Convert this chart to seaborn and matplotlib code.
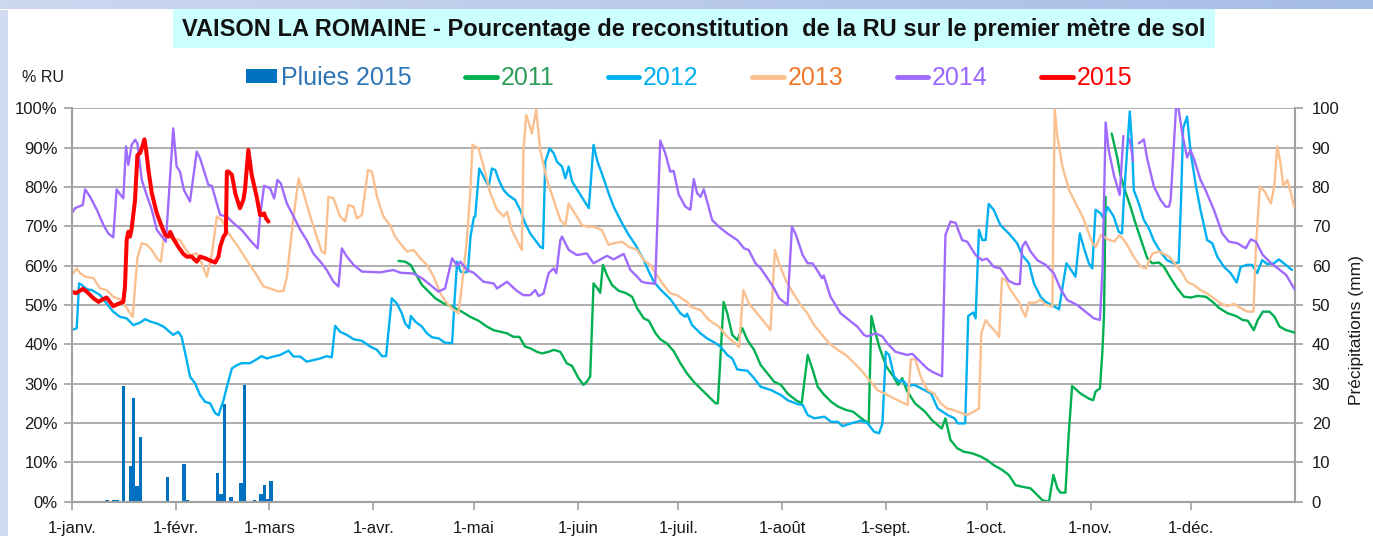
import numpy as np
import pandas as pd
import matplotlib
matplotlib.use('Agg')
import matplotlib.pyplot as plt
from matplotlib.ticker import PercentFormatter
from matplotlib.lines import Line2D
from matplotlib.patches import Patch, Rectangle
from matplotlib.colors import LinearSegmentedColormap
import seaborn as sns

# jours depuis le 1er janvier (None = trou dans la serie)
jours_2011 = [97.5, 99.5, 101.1, 102.5, 104.5, 106.5, 108.5, 111.0, 114.0, 116.4, 118.9, 121.4, 123.9, 125.9,
              127.9, 129.9, 131.8, 133.6, 135.3, 136.8, 138.8, 140.3, 142.3, 143.8, 145.8, 147.7, 149.3, 151.2,
              152.7, 153.7, 154.7, 155.7, 156.9, 157.7, 158.5, 159.7, 161.2, 163.2, 165.2, 167.2, 168.7, 170.7,
              172.2, 174.2, 175.6, 177.6, 179.6, 181.6, 183.6, 185.6, 187.6, 190.1, 192.1, 192.8, 194.5, 195.6,
              197.1, 198.6, 200.1, 201.6, 203.6, 205.6, 207.6, 209.6, 211.6, 213.6, 216.1, 217.8, 219.6, 221.1,
              222.6, 224.6, 226.6, 228.6, 231.1, 233.1, 235.6, 237.8, 238.6, 239.6, 241.1, 243.1, 245.1, 246.6,
              247.8, 249.1, 251.6, 254.6, 256.6, 259.6, 260.7, 262.2, 264.2, 266.2, 268.7, 271.2, 273.1, 275.1,
              277.6, 279.6, 281.6, 283.6, 286.1, 288.1, 289.6, 291.6, 292.9, 294.1, 295.0, 296.5, 297.5, 298.5,
              301.0, 303.5, 304.8, 305.5, 306.8, 307.5, 308.0, 308.5, None,
              310.3, 311.9, 312.9, 314.4, 315.9, 317.4, 319.4, 320.9, 322.4, 324.4, 325.9, 327.9, 329.9, 331.9,
              333.9, 335.9, 338.4, 340.4, 342.4, 344.9, 347.4, 349.4, 350.9, 352.7, 353.9, 355.4, 357.4, 358.9,
              360.4, 362.4, 364.9]
ru_2011 = [61.2, 61.0, 60.2, 58.1, 55.1, 53.4, 51.7, 50.4, 49.4, 48.3, 47.0, 46.0, 44.5, 43.6,
           43.2, 42.8, 41.9, 41.9, 39.4, 39.0, 38.1, 37.7, 38.1, 38.6, 38.1, 35.2, 34.5, 31.4,
           29.7, 30.5, 31.8, 55.5, 54.2, 53.1, 60.2, 57.6, 55.1, 53.6, 53.1, 52.1, 49.2, 46.6,
           46.0, 42.8, 41.3, 40.2, 38.3, 35.2, 32.6, 30.5, 28.8, 26.7, 25.0, 25.0, 50.8, 47.9,
           42.4, 41.1, 44.1, 41.1, 38.6, 34.7, 32.6, 30.5, 29.7, 27.5, 25.8, 25.0, 37.3, 33.5,
           29.2, 27.1, 25.4, 24.2, 23.3, 22.9, 21.2, 19.9, 47.2, 43.6, 39.0, 34.3, 31.9, 29.7,
           31.4, 28.4, 25.0, 22.9, 20.8, 18.6, 21.2, 15.7, 13.6, 12.7, 12.3, 11.5, 10.6, 9.3,
           8.1, 6.8, 4.2, 3.8, 3.4, 1.7, 0.4, 0.0, 6.8, 3.4, 2.3, 2.3, 17.4, 29.4,
           27.5, 26.2, 25.8, 28.0, 28.8, 37.7, 47.0, 77.5, None,
           93.6, 87.7, 83.1, 78.8, 75.0, 70.8, 65.7, 61.9, 60.6, 60.8, 59.7, 56.8, 54.2, 52.1,
           51.9, 52.3, 52.1, 50.8, 49.2, 47.9, 47.2, 46.2, 46.0, 43.6, 46.2, 48.3, 48.3, 47.0,
           44.5, 43.6, 43.0]

jours_2012 = [0.0, 1.5, 2.2, 3.0, 4.5, 6.0, 8.5, 10.4, 12.4, 14.4, 16.4, 18.4, 20.4, 21.9, 23.4, 25.4, 27.4,
              30.3, 31.8, 32.8, 34.3, 35.3, 36.8, 38.3, 39.8, 41.3, 42.8, 43.8, 45.3, 46.3, 47.8, 49.3, 50.7,
              53.2, 55.2, 56.7, 58.2, 60.2, 62.2, 64.7, 66.2, 68.2, 70.1, 74.1, 76.1, 77.6, 78.6, 80.1, 82.1,
              84.1, 86.6, 89.1, 91.1, 92.6, 93.8, 95.5, 97.0, 98.5, 99.5, 100.7, 101.2, 102.5, 104.5, 106.0,
              107.5, 109.5, 111.4, 113.5, 114.3, 115.0, 116.0, 117.0, 118.2, 119.0, 120.0, 120.4, 121.6, 122.9,
              124.4, 125.4, 126.4, 127.4, 128.9, 130.3, 132.3, 133.8, 135.3, 136.8, 138.3, 139.8, 140.6, 141.3,
              142.6, 143.8, 144.8, 146.3, 147.3, 148.3, 149.3, 151.8, 154.3, 155.7, 156.9, 158.7, 160.2, 161.7,
              164.2, 166.2, 168.2, 170.7, 172.2, 173.7, 175.6, 178.6, 181.6, 183.1, 183.6, 185.1, 187.6, 189.6,
              192.1, 193.6, 195.6, 197.1, 198.6, 201.6, 203.6, 205.6, 208.6, 211.6, 213.6, 216.6, 218.1, 219.6,
              221.6, 224.6, 226.6, 228.6, 230.0, 232.5, 235.5, 237.5, 239.4, 240.9, 241.9, 242.9, 243.9, 245.4,
              246.9, 247.9, 249.4, 251.4, 254.4, 256.4, 258.4, 261.4, 263.4, 264.4, 266.6, 267.5, 269.0, 269.7,
              270.7, 271.7, 272.7, 273.6, 275.1, 277.1, 279.6, 282.1, 283.6, 285.6, 287.1, 289.1, 290.6, 292.6,
              294.6, 295.5, 296.8, 298.5, 299.5, 300.8, 302.2, 303.5, 304.5, 305.5, 307.0, 307.9, 309.1, 310.9,
              312.4, 313.4, 313.9, 314.9, 315.7, 316.4, 316.9, 318.4, 319.9, 321.4, 322.8, 324.8, 326.8, 328.8,
              330.3, 331.0, 331.6, 332.8, 333.8, 335.3, 336.8, 338.8, 340.3, 341.8, 343.8, 345.8, 347.6, 348.8,
              350.7, 352.2, 353.7, 355.2, 356.7, 358.7, 360.2, 362.2, 364.1]
ru_2012 = [43.6, 44.1, 55.5, 55.1, 54.0, 53.8, 52.5, 50.4, 48.3, 47.0, 46.6, 44.9, 45.5, 46.4, 45.8, 45.3, 44.5,
           42.4, 43.2, 41.9, 36.0, 31.8, 30.1, 27.1, 25.4, 25.0, 22.5, 22.0, 25.8, 29.2, 33.9, 34.7, 35.2,
           35.2, 36.2, 37.0, 36.4, 36.9, 37.3, 38.4, 36.9, 36.9, 35.6, 36.4, 37.0, 36.7, 44.7, 43.2, 42.4,
           41.3, 40.9, 39.4, 38.6, 37.0, 37.0, 51.7, 50.4, 47.9, 45.3, 44.1, 47.2, 45.8, 44.5, 42.8,
           41.8, 41.5, 40.4, 40.3, 52.1, 61.0, 58.5, 58.2, 58.5, 67.4, 72.3, 72.5, 84.7, 82.6,
           80.1, 84.7, 84.3, 81.8, 79.2, 77.9, 76.7, 74.2, 70.8, 68.2, 66.5, 64.8, 64.4, 86.4,
           89.8, 88.6, 86.4, 85.2, 82.2, 85.2, 81.4, 78.0, 74.6, 90.7, 86.4, 82.2, 78.4, 75.0,
           70.8, 67.8, 65.3, 61.4, 58.5, 55.9, 54.0, 51.5, 47.9, 47.0, 47.8, 44.9, 42.8, 41.5,
           40.3, 39.4, 37.3, 36.4, 33.6, 33.3, 31.4, 29.2, 28.4, 27.1, 25.8, 24.8, 24.6, 22.0,
           21.2, 21.6, 20.3, 20.3, 19.2, 19.9, 20.6, 19.9, 17.8, 17.4, 19.9, 38.1, 37.3, 31.8,
           30.5, 30.9, 29.4, 29.7, 28.4, 27.5, 23.7, 22.0, 21.2, 19.9, 19.9, 47.2, 48.1, 46.6,
           69.1, 66.5, 66.5, 75.7, 74.2, 70.3, 68.2, 65.7, 62.7, 60.6, 55.5, 52.1, 50.8, 49.9,
           48.9, 53.8, 60.6, 58.5, 57.2, 68.2, 64.0, 60.6, 59.3, 74.2, 73.3, 72.0, 74.9, 72.5,
           68.6, 68.2, 76.7, 89.4, 99.2, 90.3, 79.2, 75.8, 71.6, 69.5, 66.5, 63.6, 61.4, 60.6,
           60.8, 76.7, 94.9, 97.9, 89.4, 80.9, 74.2, 66.5, 65.7, 62.3, 59.7, 58.1, 55.7, 59.7,
           60.2, 60.2, 58.1, 61.4, 60.4, 60.6, 61.6, 60.2, 58.9]

jours_2013 = [0.0, 1.5, 2.5, 4.0, 6.5, 8.5, 10.4, 12.4, 14.9, 16.4, 18.2, 18.9, 19.6, 20.9, 22.4, 23.9, 25.4,
              26.6, 27.4, 28.4, 30.3, 32.3, 33.8, 35.3, 37.3, 38.8, 40.3, 41.8, 43.3, 44.8, 46.8, 49.3, 52.2,
              55.2, 57.2, 59.2, 61.7, 63.2, 64.2, 66.2, 67.7, 69.2, 71.1, 73.1, 74.6, 75.6, 76.6, 78.1, 80.1,
              81.6, 82.6, 84.1, 85.1, 86.6, 88.4, 89.6, 91.1, 93.0, 95.0, 96.5, 98.0, 100.0, 102.0, 104.0,
              106.0, 108.0, 110.0, 112.0, 114.0, 115.4, 116.4, 117.9, 118.9, 119.6, 121.4, 122.9, 124.9, 126.9,
              128.9, 129.9, 131.3, 132.8, 134.3, 134.8, 135.6, 136.3, 137.3, 138.6, 139.8, 141.8, 143.8, 145.8,
              147.3, 148.3, 149.8, 152.3, 153.7, 155.7, 158.2, 160.2, 161.7, 164.2, 166.2, 168.7, 170.7, 172.6,
              174.6, 176.6, 178.6, 180.6, 183.6, 184.6, 187.6, 190.1, 193.1, 195.6, 198.1, 199.1, 200.4, 202.0,
              204.5, 206.5, 208.5, 209.8, 211.0, 213.0, 215.0, 217.5, 219.5, 221.5, 223.5, 226.0, 228.5, 231.0,
              233.5, 235.5, 237.5, 240.4, 243.4, 246.4, 249.4, 250.4, 251.7, 253.3, 255.3, 257.3, 259.3, 261.2,
              263.2, 265.2, 267.2, 269.2, 270.7, 271.4, 272.7, 274.2, 275.7, 276.7, 277.6, 278.6, 280.1, 282.6,
              283.6, 284.6, 285.6, 287.6, 289.1, 290.6, 292.6, 293.3, 294.1, 295.6, 297.6, 299.6, 301.6, 303.1,
              304.6, 305.6, 307.1, 309.1, 311.1, 312.6, 314.0, 315.5, 317.1, 319.1, 320.5, 321.5, 322.5, 324.5,
              327.4, 329.3, 331.4, 332.8, 334.8, 336.8, 338.8, 340.8, 342.8, 344.8, 346.8, 348.8, 350.8, 352.6,
              353.3, 354.5, 356.0, 357.8, 358.8, 359.7, 360.7, 361.5, 362.7, 363.7, 364.7]
ru_2013 = [57.6, 59.3, 58.1, 57.2, 56.8, 54.2, 53.8, 52.1, 51.3, 49.2, 47.0, 54.7, 61.9, 65.7, 65.3, 64.0, 61.9,
           61.0, 66.5, 67.4, 66.9, 66.5, 64.4, 62.7, 63.1, 60.6, 57.2, 62.7, 72.5, 71.6, 68.2, 65.3, 61.4,
           57.6, 54.7, 54.2, 53.4, 53.6, 57.2, 72.5, 82.2, 78.4, 72.7, 67.4, 63.6, 63.1, 77.5, 77.1, 72.5,
           71.2, 75.4, 75.0, 72.0, 72.9, 84.3, 83.9, 77.5, 72.5, 70.3, 67.4, 65.7, 63.6, 64.0, 61.9,
           60.2, 57.2, 53.0, 50.4, 48.7, 47.9, 54.7, 66.5, 78.4, 90.7, 89.8, 85.2, 78.4, 74.2,
           72.5, 73.7, 69.1, 66.5, 64.0, 89.4, 98.3, 96.6, 93.6, 99.6, 89.4, 81.8, 76.7, 71.6,
           70.3, 75.8, 73.7, 70.3, 69.9, 69.9, 69.1, 65.3, 65.7, 66.1, 64.8, 64.0, 61.4, 60.2,
           57.6, 55.1, 53.0, 52.5, 50.8, 49.6, 48.7, 46.2, 44.5, 41.9, 40.2, 39.3, 53.8, 50.4,
           47.9, 45.8, 43.6, 64.0, 60.6, 56.4, 53.4, 50.0, 47.9, 44.9, 42.8, 40.3, 38.6, 37.3,
           35.2, 33.5, 31.4, 28.4, 27.1, 25.8, 24.6, 36.2, 36.2, 31.8, 28.4, 27.5, 25.0, 23.7,
           23.3, 22.6, 22.0, 22.9, 23.7, 42.8, 46.2, 44.5, 43.2, 41.8, 56.8, 56.4, 53.8, 50.8,
           48.7, 47.0, 50.6, 50.6, 51.4, 50.0, 49.6, 99.6, 92.8, 85.2, 79.2, 75.8, 72.5, 69.1,
           65.7, 64.8, 67.8, 66.7, 66.1, 67.8, 66.5, 64.4, 61.9, 59.7, 59.3, 61.4, 63.1, 63.6,
           62.3, 60.4, 58.1, 55.9, 55.1, 53.8, 52.9, 51.7, 50.4, 49.7, 50.3, 49.2, 48.3, 48.3,
           64.0, 80.1, 78.8, 75.8, 80.1, 90.3, 86.0, 80.1, 81.8, 78.8, 75.0]

jours_2014 = [0.0, 1.0, 2.0, 3.3, 4.0, 5.5, 7.5, 9.5, 10.9, 12.4, 13.4, 14.2, 15.4, 16.2, 16.9, 17.9, 18.9, 19.6,
              20.9, 22.2, 23.9, 25.4, 26.9, 28.1, 30.3, 31.3, 32.3, 33.5, 35.3, 37.3, 38.3, 40.8, 41.8, 44.3,
              46.3, 48.3, 50.7, 53.2, 55.5, 56.2, 57.4, 59.2, 60.4, 61.4, 62.4, 64.2, 66.2, 68.2, 70.1, 72.1,
              74.6, 76.1, 78.1, 79.6, 80.6, 82.1, 84.1, 86.6, 92.0, 96.0, 98.0, 102.0, 104.5, 107.0, 109.4,
              111.4, 113.5, 115.0, 116.0, 117.9, 119.9, 122.9, 125.9, 126.9, 129.9, 132.8, 134.8, 136.8, 138.3,
              139.3, 140.8, 142.3, 143.8, 144.6, 145.8, 146.3, 148.3, 150.7, 153.7, 155.7, 159.7, 161.7, 164.7,
              166.7, 168.7, 170.1, 171.6, 174.1, 175.6, 177.1, 178.6, 179.6, 181.1, 183.1, 184.6, 185.6, 186.6,
              187.6, 188.6, 191.1, 193.1, 195.6, 198.6, 200.6, 202.0, 204.0, 205.6, 207.6, 209.6, 211.1, 213.6,
              214.9, 216.1, 218.1, 219.6, 221.0, 222.4, 223.9, 224.4, 226.4, 229.4, 231.9, 234.4, 236.4, 237.4,
              239.9, 241.9, 243.3, 245.8, 249.3, 250.8, 253.2, 255.2, 256.8, 259.7, 260.7, 262.2, 263.7, 265.7,
              267.2, 269.7, 271.6, 273.1, 275.1, 277.1, 279.6, 281.6, 282.9, 283.6, 284.6, 286.1, 288.1, 290.6,
              293.0, 295.0, 297.0, 300.0, 302.5, 305.0, 306.8, 307.6, 308.5, 309.4, 311.0, 312.7, 313.8, None,
              315.7, 316.7, None,
              318.4, 319.9, 320.9, 322.9, 324.9, 326.4, 327.4, 327.9, 329.7, 331.4, 332.8, 333.8, 334.8, 336.8,
              338.3, 340.8, 343.3, 345.3, 347.8, 350.3, 351.8, 353.3, 355.4, 357.9, 359.9, 362.4, 365.0]
ru_2014 = [73.3, 74.6, 75.0, 75.4, 79.4, 77.5, 74.2, 70.3, 68.2, 67.2, 79.4, 78.4, 77.1, 90.3, 85.6, 90.7, 92.0, 91.1,
           81.8, 78.4, 74.2, 69.1, 67.4, 66.1, 94.9, 85.2, 83.9, 79.2, 76.3, 89.0, 87.3, 80.5, 80.3, 72.9,
           72.5, 70.8, 69.1, 66.5, 64.4, 72.5, 80.3, 79.7, 77.1, 81.8, 80.9, 75.8, 72.5, 69.1, 66.5, 63.1,
           60.6, 58.9, 55.9, 54.7, 64.4, 62.3, 60.2, 58.5, 58.3, 58.9, 58.2, 58.0, 56.8, 55.1, 53.4,
           54.2, 61.9, 60.0, 61.0, 58.9, 58.2, 55.9, 55.5, 54.2, 55.9, 53.6, 52.5, 52.5, 53.8,
           52.3, 52.9, 58.1, 59.3, 58.1, 66.5, 67.4, 64.0, 62.7, 63.1, 60.6, 62.5, 61.6, 63.0,
           58.9, 57.2, 55.9, 55.6, 55.4, 91.8, 88.6, 83.9, 84.1, 78.1, 75.0, 74.2, 82.0, 78.4,
           77.5, 79.4, 71.6, 69.9, 68.2, 66.5, 64.4, 64.0, 60.6, 59.3, 56.8, 54.2, 51.7, 50.0,
           69.9, 67.8, 62.7, 60.6, 60.6, 58.9, 56.8, 57.5, 52.1, 47.9, 46.2, 44.5, 42.4, 42.0,
           42.8, 42.0, 40.3, 38.1, 37.3, 37.6, 35.6, 33.9, 33.0, 31.9, 67.8, 71.2, 70.9, 66.5,
           66.1, 62.7, 61.4, 61.8, 59.7, 59.3, 56.1, 55.3, 55.3, 64.8, 66.1, 63.6, 61.4, 60.2,
           58.1, 54.2, 51.3, 50.0, 48.3, 46.6, 46.2, 59.7, 96.4, 89.4, 82.9, 78.0, 93.0, None,
           92.1, 86.6, None,
           91.1, 92.1, 87.2, 80.1, 76.7, 75.0, 75.0, 76.7, 103.0, 93.4, 87.5, 89.4, 87.3, 81.8,
           79.2, 74.2, 68.2, 66.1, 65.7, 64.4, 66.7, 66.1, 62.7, 60.6, 59.3, 57.6, 53.8]

jours_2015 = [0.0, 1.3, 3.3, 4.5, 6.5, 8.0, 9.0, 10.4, 11.4, 12.4, 13.9, 15.4, 15.9, 16.4, 16.9, 17.4, 17.9,
              18.9, 19.6, 20.4, 21.1, 21.7, 22.2, 22.9, 23.9, 25.4, 26.9, 27.9, 28.9, 29.4, 30.3, 31.8, 33.3,
              34.3, 35.8, 37.3, 38.3, 39.8, 41.3, 42.8, 43.8, 44.3, 45.3, 46.0, 46.3, 46.8, 47.8, 48.8, 50.2,
              51.2, 51.7, 52.7, 53.7, 55.2, 56.2, 56.9, 57.4, 58.0, 58.7]
ru_2015 = [53.4, 53.0, 54.1, 53.4, 51.7, 50.8, 51.3, 51.9, 50.8, 49.7, 50.3, 50.8, 54.7, 66.5, 68.6, 67.4, 69.5,
           76.7, 88.1, 88.6, 90.3, 92.1, 89.4, 84.3, 78.4, 73.3, 69.9, 67.8, 67.4, 68.6, 66.9, 64.8, 63.0,
           62.3, 62.3, 61.0, 62.3, 61.9, 61.3, 60.8, 62.3, 64.8, 67.4, 68.2, 83.9, 83.9, 83.1, 78.4, 74.6,
           76.7, 79.2, 89.4, 83.1, 77.5, 72.9, 72.9, 73.3, 72.0, 71.2]

# pluies 2015 (mm)
jours_pluie = [10, 12, 13, 15, 17, 18, 19, 20, 28, 33, 34, 43, 44, 45, 47, 50, 51, 54, 56, 57, 58, 59]
pluies_2015 = [0.4, 0.4, 0.4, 29.4, 9.0, 26.4, 4.0, 16.4, 6.2, 9.7, 0.4, 7.2, 1.9, 24.8, 1.3, 4.8, 29.7,
               0.4, 1.9, 4.2, 0.8, 5.3]

mois = ['1-janv.', '1-févr.', '1-mars', '1-avr.', '1-mai', '1-juin', '1-juil.', '1-août',
        '1-sept.', '1-oct.', '1-nov.', '1-déc.']

couleurs = {'2011': '#00B050', '2012': '#00B0F0', '2013': '#FAC090', '2014': '#9F6BFF', '2015': '#FF0000'}
couleurs_texte = {'Pluies 2015': '#2E75B6', '2011': '#2E9D5A', '2012': '#00B0F0', '2013': '#F0782A',
                  '2014': '#9966FF', '2015': '#FF0000'}
bleu_pluie = '#0070C0'
gris = '#A0A0A0'

DEBUT = pd.Timestamp('2015-01-01')


def to_frame(annee, jours, valeurs):
    df = pd.DataFrame({'jour': jours, 'ru': valeurs}, dtype=float)
    df['seg'] = df['ru'].isna().cumsum()
    df = df.dropna().copy()
    df['date'] = DEBUT + pd.to_timedelta(df['jour'], unit='D')
    df['annee'] = annee
    df['trace'] = annee + '_' + df['seg'].astype(str)
    return df


sns.set_style('white')
plt.rcParams['font.family'] = ['Liberation Sans', 'DejaVu Sans']

W, H = 1373, 536
L, R, T, B = 71.7, 1295, 108.3, 501.7

fig = plt.figure(figsize=(W / 100, H / 100), dpi=100)
fig.patch.set_facecolor('white')

# bandeau du fond (style diapo)
bande = fig.add_axes([0, 1 - 9.5 / H, 1, 9.5 / H])
cmap_bande = LinearSegmentedColormap.from_list('bande', ['#CDD8F0', '#A6BDE6'])
bande.imshow(np.linspace(0, 1, 256).reshape(1, -1), aspect='auto', cmap=cmap_bande)
bande.axis('off')
fig.add_artist(Rectangle((0, 0), 8 / W, 1 - 9.5 / H, transform=fig.transFigure,
                         facecolor='#D2DCF1', edgecolor='none'))

ax = fig.add_axes([L / W, 1 - B / H, (R - L) / W, (B - T) / H])
ax2 = ax.twinx()
ax.set_zorder(2)
ax2.set_zorder(1)
ax.patch.set_visible(False)
ax2.patch.set_facecolor('white')

# pluies sur l'axe de droite
dates_pluie = DEBUT + pd.to_timedelta(jours_pluie, unit='D') + pd.Timedelta(hours=12)
ax2.bar(dates_pluie, pluies_2015, width=1.0, color=bleu_pluie, linewidth=0, zorder=2)
ax2.set_ylim(0, 100)
ax2.set_yticks(range(0, 101, 10))
ax2.set_axisbelow(True)
ax2.yaxis.grid(True, color=gris, linewidth=1.2)

# courbes RU
df_old = pd.concat([to_frame(a, j, v) for a, j, v in
                    [('2011', jours_2011, ru_2011), ('2012', jours_2012, ru_2012),
                     ('2013', jours_2013, ru_2013), ('2014', jours_2014, ru_2014)]])
sns.lineplot(data=df_old, x='date', y='ru', hue='annee', units='trace', estimator=None, sort=False,
             palette=couleurs, linewidth=1.7, legend=False, ax=ax)
df_2015 = to_frame('2015', jours_2015, ru_2015)
sns.lineplot(data=df_2015, x='date', y='ru', color=couleurs['2015'], estimator=None, sort=False,
             linewidth=2.9, legend=False, ax=ax)

ax.set_ylim(0, 100)
ax.set_xlim(DEBUT, DEBUT + pd.Timedelta(days=365))
ax.set_yticks(range(0, 101, 10))
ax.yaxis.set_major_formatter(PercentFormatter(xmax=100, decimals=0))
ax.set_xticks(pd.date_range(DEBUT, periods=12, freq='MS'))
ax.set_xticklabels(mois)
ax.set_xlabel('')
ax.set_ylabel('')
ax2.set_ylabel('')

for a in (ax, ax2):
    for s in a.spines.values():
        s.set_visible(False)
ax.spines['left'].set_visible(True)
ax.spines['bottom'].set_visible(True)
ax2.spines['right'].set_visible(True)
for s in (ax.spines['left'], ax.spines['bottom'], ax2.spines['right']):
    s.set_color(gris)
    s.set_linewidth(1.5)

ax.tick_params(axis='both', which='major', direction='out', length=6, width=1.2, color=gris,
               labelsize=12, labelcolor='#1A1A1A', left=True, bottom=True)
ax.tick_params(axis='x', pad=8)
ax.tick_params(axis='y', pad=4)
ax2.tick_params(axis='y', direction='out', length=6, width=1.2, color=gris, labelsize=12,
                labelcolor='#1A1A1A', right=True, pad=6)

# titre dans son cadre
fig.add_artist(Rectangle((173 / W, 1 - 47.7 / H), (1215 - 173) / W, (47.7 - 9.5) / H,
                         transform=fig.transFigure, facecolor='#CCFFFF', edgecolor='none'))
titre = fig.text(694 / W, 1 - 29.5 / H,
                 'VAISON LA ROMAINE - Pourcentage de reconstitution  de la RU sur le premier mètre de sol',
                 ha='center', va='center', fontsize=17, fontweight='bold', color='#111111')
fig.canvas.draw()
largeur = titre.get_window_extent().width
titre.set_fontsize(17 * 1027 / largeur)

fig.text(22 / W, 1 - 78 / H, '% RU', ha='left', va='center', fontsize=11.5, color='#1A1A1A')
fig.text(1357 / W, 1 - 330 / H, 'Précipitations (mm)', rotation=90, ha='center', va='center',
         fontsize=12.5, color='#1A1A1A')

# legende
poignees = [Patch(facecolor=bleu_pluie, edgecolor='none')]
for an in ['2011', '2012', '2013', '2014', '2015']:
    poignees.append(Line2D([0], [0], color=couleurs[an], linewidth=3.5))
etiquettes = ['Pluies 2015', '2011', '2012', '2013', '2014', '2015']
fig.legend(poignees, etiquettes, loc='center', bbox_to_anchor=(689 / W, 1 - 78 / H), ncol=6,
           frameon=False, fontsize=18, handlelength=1.25, handleheight=0.5, handletextpad=0.15,
           columnspacing=2.15, labelcolor=[couleurs_texte[e] for e in etiquettes])

fig.savefig('out.png', dpi=100)
